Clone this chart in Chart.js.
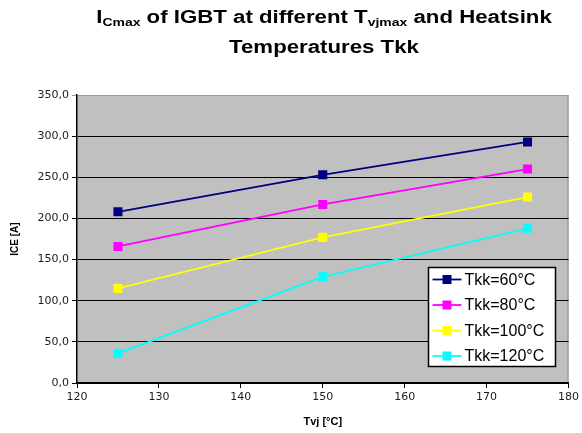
<!DOCTYPE html>
<html>
<head>
<meta charset="utf-8">
<script src="https://cdn.jsdelivr.net/npm/chart.js@4.4.0/dist/chart.umd.min.js"></script>
<style>
  html, body { margin: 0; padding: 0; background: #fff; }
  #wrap { position: relative; width: 582px; height: 433px; overflow: hidden; }
  #title { position: absolute; left: 0; top: 2px; width: 648px; text-align: center;
    font-family: "Liberation Sans", Arial, sans-serif; font-weight: bold; font-size: 17.5px; line-height: 30px; color: #000;
    transform: scaleX(1.27); transform-origin: 324px 0; }
  #title sub { font-size: 11px; vertical-align: -3px; line-height: 0; }
  canvas { position: absolute; left: 0; top: 0; }
</style>
</head>
<body>
<div id="wrap">
  <canvas id="c" width="582" height="433"></canvas>
  <div id="title">I<sub>Cmax</sub> of IGBT at different T<sub>vjmax</sub> and Heatsink<br>Temperatures Tkk</div>
</div>
<script>
const xValues = [125, 150, 175];
const seriesLabels = ["Tkk=60°C", "Tkk=80°C", "Tkk=100°C", "Tkk=120°C"];
const tkk60 = [208, 253, 293];
const tkk80 = [166, 217, 260];
const tkk100 = [115, 177, 226];
const tkk120 = [36, 129, 188];
const seriesColors = ["#000080", "#ff00ff", "#ffff00", "#00ffff"];
const xTitle = "Tvj [°C]";
const yTitle = "ICE [A]";

const allSeries = [tkk60, tkk80, tkk100, tkk120];
const datasets = allSeries.map((vals, i) => ({
  label: seriesLabels[i],
  data: vals.map((v, j) => ({ x: xValues[j], y: v })),
  borderColor: seriesColors[i],
  backgroundColor: seriesColors[i],
  borderWidth: 1.8,
  pointStyle: 'rect',
  pointRadius: 6.4,
  pointHoverRadius: 6.4,
  pointBorderWidth: 0,
  tension: 0
}));

const bgPlugin = {
  id: 'plotBg',
  beforeDraw(chart) {
    const { ctx, chartArea: a } = chart;
    ctx.save();
    ctx.fillStyle = '#c0c0c0';
    ctx.fillRect(a.left, a.top, a.right - a.left, a.bottom - a.top);
    ctx.strokeStyle = '#8a8a8a';
    ctx.lineWidth = 1;
    ctx.beginPath();
    ctx.moveTo(a.right - 0.5, a.top);
    ctx.lineTo(a.right - 0.5, a.bottom);
    ctx.stroke();
    ctx.restore();
  }
};

const legendPlugin = {
  id: 'boxLegend',
  afterDatasetsDraw(chart) {
    const { ctx } = chart;
    const bx = 428.5, by = 267.5, bw = 127, bh = 99;
    ctx.save();
    ctx.fillStyle = '#fff';
    ctx.fillRect(bx, by, bw, bh);
    ctx.strokeStyle = '#000';
    ctx.lineWidth = 1.5;
    ctx.strokeRect(bx, by, bw, bh);
    ctx.font = '16px "Liberation Sans", Arial, sans-serif';
    ctx.textBaseline = 'middle';
    chart.data.datasets.forEach((ds, i) => {
      const y = by + 12 + i * 25.5;
      ctx.strokeStyle = ds.borderColor;
      ctx.lineWidth = 1.8;
      ctx.beginPath();
      ctx.moveTo(bx + 4, y);
      ctx.lineTo(bx + 33, y);
      ctx.stroke();
      ctx.fillStyle = ds.backgroundColor;
      ctx.fillRect(bx + 14, y - 4.5, 9, 9);
      ctx.fillStyle = '#000';
      ctx.fillText(ds.label, bx + 36, y + 1);
    });
    ctx.restore();
  }
};

new Chart(document.getElementById('c'), {
  type: 'line',
  data: { datasets },
  plugins: [bgPlugin, legendPlugin],
  options: {
    responsive: false,
    animation: false,
    layout: { padding: { top: 95, right: 10, left: 0, bottom: 0 } },
    plugins: { legend: { display: false }, title: { display: false }, tooltip: { enabled: false } },
    scales: {
      x: {
        type: 'linear', min: 120, max: 180,
        ticks: { stepSize: 10, color: '#1a1a22', font: { family: '"DejaVu Sans", sans-serif', size: 11 }, padding: 3 },
        grid: { drawOnChartArea: false, drawTicks: true, tickLength: 5, color: '#000' },
        border: { display: true, color: '#000', width: 1.5 },
        title: { display: true, text: xTitle, color: '#000', font: { family: '"Liberation Sans", Arial, sans-serif', size: 11, weight: 'bold' }, padding: { top: 5 } },
        afterFit(s) { s.height = 50; }
      },
      y: {
        type: 'linear', min: 0, max: 350,
        ticks: { stepSize: 50, color: '#1a1a22', font: { family: '"DejaVu Sans", sans-serif', size: 11 }, padding: 3,
          callback: v => v.toFixed(1).replace('.', ',') },
        grid: { color: ctx => (ctx.tick && ctx.tick.value === 350 ? '#9a9a9a' : '#000'), lineWidth: 1, tickLength: 5 },
        border: { display: true, color: '#000', width: 1.5 },
        title: { display: true, text: yTitle, color: '#000', font: { family: '"Liberation Sans", Arial, sans-serif', size: 10, weight: 'bold' }, padding: { top: 9, bottom: 4 } },
        afterFit(s) { s.width = 77; }
      }
    }
  }
});
</script>
</body>
</html>
